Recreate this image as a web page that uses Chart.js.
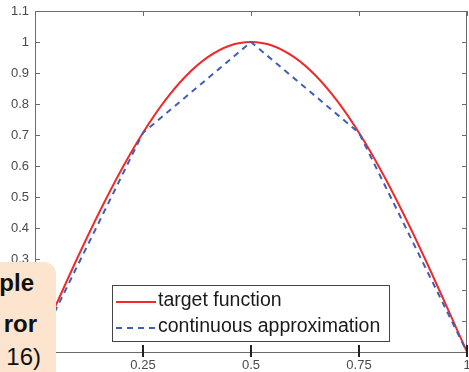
<!DOCTYPE html>
<html>
<head>
<meta charset="utf-8">
<script src="https://cdn.jsdelivr.net/npm/chart.js@4/dist/chart.umd.min.js"></script>
<style>
  html, body { margin: 0; padding: 0; background: #fff; overflow: hidden; }
  #wrap { position: relative; width: 469px; height: 372px; }
  canvas { display: block; }
  #note {
    position: absolute; left: -14px; top: 262px; width: 70px; height: 130px;
    background: #fde4ce; border-radius: 12px;
    font-family: "Liberation Sans", Arial, sans-serif; color: #111;
  }
  #note span { position: absolute; font-size: 24px; line-height: 24px; white-space: nowrap; }
</style>
</head>
<body>
<div id="wrap">
  <canvas id="chart1" width="469" height="372"></canvas>
  <div id="note">
    <span style="right:22px; top:9px; font-weight:bold">ple</span>
    <span style="right:19px; top:50px; font-weight:bold">ror</span>
    <span style="right:15px; top:83px">16)</span>
  </div>
</div>
<script>
// sampled target curve
const xFine = [0, 0.05, 0.1, 0.15, 0.2, 0.25, 0.3, 0.35, 0.4, 0.45, 0.5,
               0.55, 0.6, 0.65, 0.7, 0.75, 0.8, 0.85, 0.9, 0.95, 1];
const targetValues = [0, 0.156, 0.309, 0.454, 0.588, 0.707, 0.809, 0.891, 0.951, 0.988, 1,
                      0.988, 0.951, 0.891, 0.809, 0.707, 0.588, 0.454, 0.309, 0.156, 0];
// piecewise linear approximation knots
const knotX = [0, 0.25, 0.5, 0.75, 1];
const approxValues = [0, 0.707, 1, 0.707, 0];

const xTicks = [0, 0.25, 0.5, 0.75, 1];
const yTicks = [0, 0.1, 0.2, 0.3, 0.4, 0.5, 0.6, 0.7, 0.8, 0.9, 1, 1.1];
const seriesLabels = ['target function', 'continuous approximation'];

const FONT = '"Liberation Sans", Arial, sans-serif';
const RED = '#ee2a2a';
const BLUE = '#3f5eb6';

const boxPlugin = {
    id: 'boxPlugin',
    afterDraw(chart) {
        const ctx = chart.ctx;
        const a = chart.chartArea;
        const xs = chart.scales.x, ys = chart.scales.y;
        ctx.save();
        ctx.strokeStyle = '#6c6c6c';
        ctx.lineWidth = 1;
        ctx.strokeRect(a.left + 0.5, a.top + 0.5, a.right - a.left - 1, a.bottom - a.top);
        // inward ticks
        ctx.beginPath();
        yTicks.forEach(v => {
            const y = Math.round(ys.getPixelForValue(v)) + 0.5;
            ctx.moveTo(a.left, y); ctx.lineTo(a.left + 5, y);
            ctx.moveTo(a.right, y); ctx.lineTo(a.right - 5, y);
        });
        xTicks.forEach(v => {
            const x = Math.round(xs.getPixelForValue(v)) + 0.5;
            ctx.moveTo(x, a.top); ctx.lineTo(x, a.top + 5);
        });
        ctx.stroke();
        ctx.strokeStyle = '#222';
        ctx.lineWidth = 2;
        ctx.beginPath();
        xTicks.forEach(v => {
            const x = Math.round(xs.getPixelForValue(v));
            ctx.moveTo(x, a.bottom - 7); ctx.lineTo(x, a.bottom + 5);
        });
        ctx.stroke();

        // legend
        const L = 112, T = 285, R = 389, B = 341;
        ctx.fillStyle = '#fff';
        ctx.fillRect(L, T, R - L, B - T);
        ctx.strokeStyle = '#444';
        ctx.lineWidth = 1;
        ctx.strokeRect(L + 0.5, T + 0.5, R - L, B - T);
        const rows = [302, 328];
        chart.data.datasets.forEach((ds, i) => {
            ctx.strokeStyle = ds.borderColor;
            ctx.lineWidth = 2;
            ctx.setLineDash(ds.borderDash || []);
            ctx.beginPath();
            ctx.moveTo(116, rows[i]); ctx.lineTo(156, rows[i]);
            ctx.stroke();
            ctx.setLineDash([]);
            ctx.fillStyle = '#1a1a1a';
            ctx.font = '19.5px ' + FONT;
            ctx.textBaseline = 'middle';
            ctx.fillText(ds.label, 158, rows[i] - 1);
        });
        ctx.restore();
    }
};

new Chart(document.getElementById('chart1').getContext('2d'), {
    type: 'line',
    data: {
        datasets: [
            {
                label: seriesLabels[0],
                data: xFine.map((x, i) => ({ x: x, y: targetValues[i] })),
                borderColor: RED, borderWidth: 2, pointRadius: 0,
                cubicInterpolationMode: 'monotone', fill: false, order: 1
            },
            {
                label: seriesLabels[1],
                data: knotX.map((x, i) => ({ x: x, y: approxValues[i] })),
                borderColor: BLUE, borderWidth: 2, borderDash: [6, 5], pointRadius: 0,
                tension: 0, fill: false, order: 0
            }
        ]
    },
    options: {
        responsive: false,
        animation: false,
        layout: { padding: { top: 11, right: 2, left: 0, bottom: 0 } },
        plugins: { legend: { display: false }, tooltip: { enabled: false } },
        scales: {
            x: {
                type: 'linear', min: 0, max: 1,
                afterBuildTicks: s => { s.ticks = xTicks.map(v => ({ value: v })); },
                afterFit: s => { s.height = 20; s.paddingLeft = 0; s.paddingRight = 0; },
                grid: { display: false, drawTicks: false },
                border: { display: false },
                ticks: {
                    color: '#4a4a4a', font: { family: FONT, size: 13 }, padding: 6,
                    maxRotation: 0, autoSkip: false,
                    callback: v => String(v)
                }
            },
            y: {
                type: 'linear', min: 0, max: 1.1,
                afterBuildTicks: s => { s.ticks = yTicks.map(v => ({ value: v })); },
                afterFit: s => { s.width = 35; s.paddingTop = 0; s.paddingBottom = 0; },
                grid: { display: false, drawTicks: false },
                border: { display: false },
                ticks: {
                    color: '#4a4a4a', font: { family: FONT, size: 13 }, padding: 6,
                    autoSkip: false,
                    callback: v => String(Math.round(v * 10) / 10)
                }
            }
        }
    },
    plugins: [boxPlugin]
});
</script>
</body>
</html>
